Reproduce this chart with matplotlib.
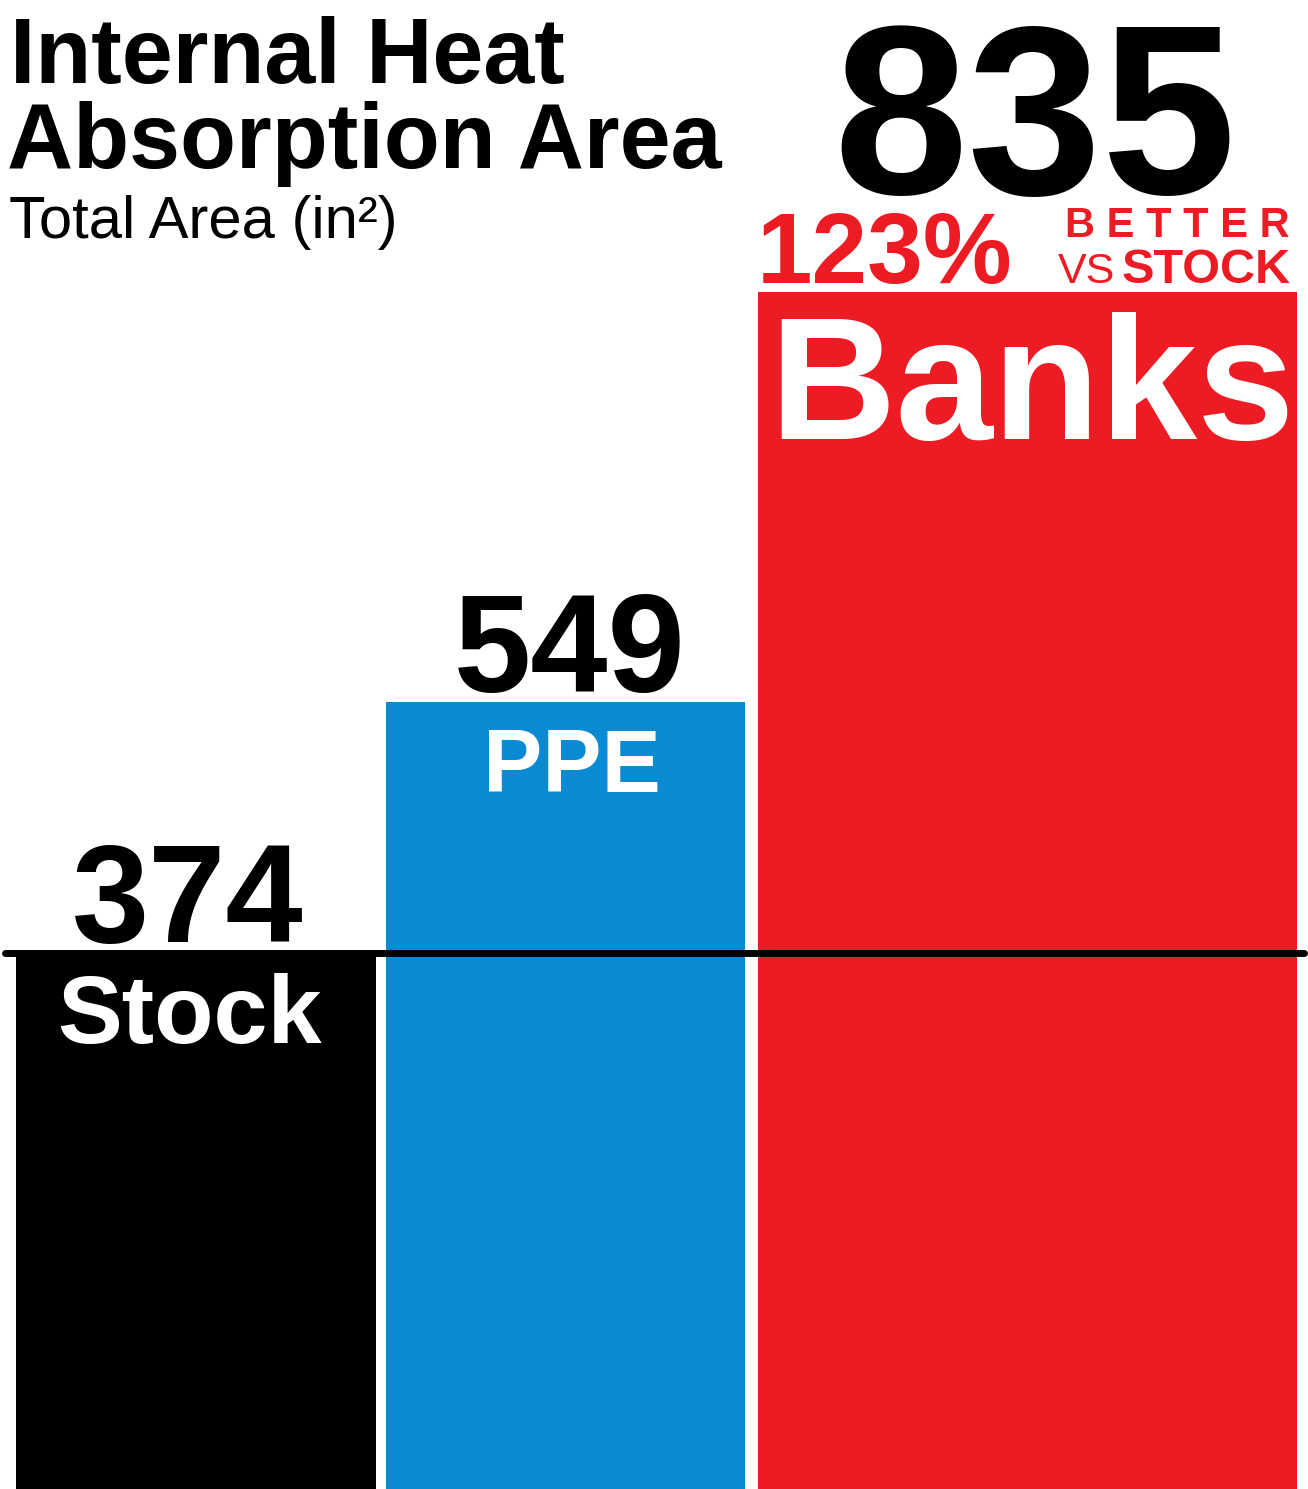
import matplotlib
matplotlib.use("Agg")
import matplotlib.pyplot as plt
from matplotlib import font_manager
from matplotlib.font_manager import FontProperties

# datos
categorias = ["Stock", "PPE", "Banks"]
valores = [374, 549, 835]
colores = ["#000000", "#0A8AD2", "#ED1C24"]
mejora_pct = 123

W, H = 1308, 1489
px_por_unidad = 1.434

plt.rcParams["font.family"] = ["Liberation Sans", "DejaVu Sans"]

# fuente estrecha si esta instalada
try:
    font_manager.findfont(FontProperties(family="Liberation Sans Narrow"),
                          fallback_to_default=False)
    hay_narrow = True
except ValueError:
    hay_narrow = False
fam_narrow = ["Liberation Sans Narrow", "Liberation Sans", "DejaVu Sans"]

fig = plt.figure(figsize=(W / 100, H / 100), dpi=100)
ax = fig.add_axes([0, 0, 1, 1])
ax.set_xlim(0, W)
ax.set_ylim(0, H / px_por_unidad)
ax.axis("off")

# posiciones horizontales de las barras (en pixeles del lienzo)
izquierdas = [16, 386, 758]
anchos = [360, 359, 539]

ax.bar(izquierdas, valores, width=anchos, align="edge", color=colores, zorder=1)

# linea de referencia al nivel del stock
ax.plot([5, 1304], [valores[0], valores[0]], color="black", lw=5,
        solid_capstyle="round", zorder=3)

centros = [l + w / 2 for l, w in zip(izquierdas, anchos)]


def etiqueta(x, y, texto, dy, size, color="black", weight="bold", ha="center",
             dx=0, family=None):
    kw = {}
    if family is not None:
        kw["family"] = family
    ax.annotate(texto, xy=(x, y), xytext=(dx, dy), textcoords="offset points",
                ha=ha, va="baseline", fontsize=size, color=color,
                fontweight=weight, zorder=4, **kw)


# valores sobre stock y PPE
etiqueta(centros[0] - 8, valores[0], str(valores[0]), 7.5, 100)
etiqueta(centros[1] + 4, valores[1], str(valores[1]), 7, 100)
# valor grande de banks
etiqueta(centros[2] + 7, valores[2], str(valores[2]), 70, 174)

# nombres dentro de las barras
etiqueta(centros[0] - 6, valores[0], categorias[0], -65, 70, color="white")
etiqueta(centros[1] + 6, valores[1], categorias[1], -65, 64, color="white")
etiqueta(centros[2] + 4, valores[2], categorias[2], -106, 126, color="white")

# mejora frente al stock
rojo = colores[2]
borde_der = izquierdas[2] + anchos[2]
if hay_narrow:
    etiqueta(izquierdas[2], valores[2], f"{mejora_pct}%", 6, 86, color=rojo,
             ha="left", family=fam_narrow, dx=-1)
    etiqueta(borde_der, valores[2], "VS", 6, 37, color=rojo,
             ha="right", dx=-133, weight="normal", family=fam_narrow)
else:
    etiqueta(izquierdas[2], valores[2], f"{mejora_pct}%", 6, 72, color=rojo,
             ha="left", dx=-1)
    etiqueta(borde_der, valores[2], "VS", 6, 31, color=rojo,
             ha="right", dx=-131, weight="normal")
etiqueta(borde_der, valores[2], "STOCK", 6, 35, color=rojo, ha="right", dx=-4.5)
etiqueta(borde_der, valores[2], "B E T T E R", 39, 30, color=rojo, ha="right", dx=-5.5)

# titulo
fig.text(10 / W, 1 - 83 / H, "Internal Heat", fontsize=66, fontweight="bold",
         ha="left", va="baseline")
fig.text(7 / W, 1 - 168 / H, "Absorption Area", fontsize=66, fontweight="bold",
         ha="left", va="baseline")
fig.text(9 / W, 1 - 238 / H, "Total Area (in²)", fontsize=43,
         ha="left", va="baseline")

fig.savefig("out.png", dpi=100)
